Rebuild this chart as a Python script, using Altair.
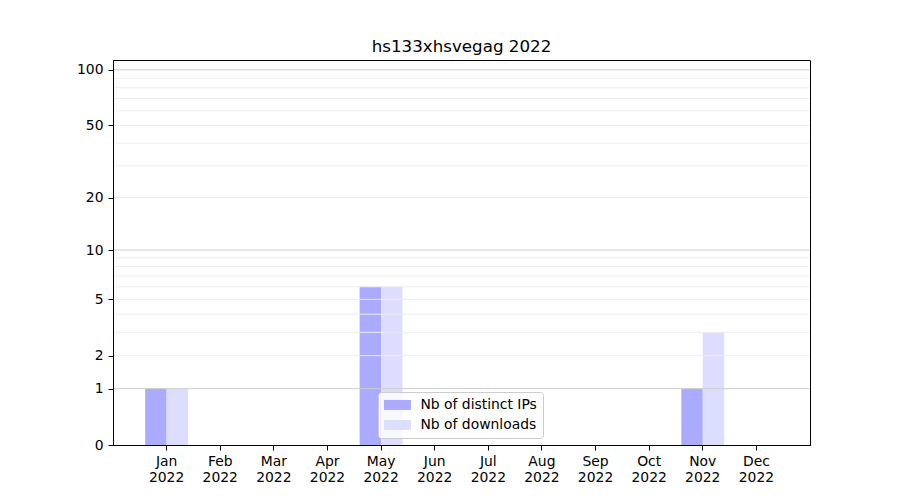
import altair as alt
import pandas as pd

title_text = "hs133xhsvegag 2022"
year = "2022"
months = ["Jan", "Feb", "Mar", "Apr", "May", "Jun", "Jul", "Aug", "Sep", "Oct", "Nov", "Dec"]
ips = [1, 0, 0, 0, 6, 0, 0, 0, 0, 0, 1, 0]
downloads = [1, 0, 0, 0, 6, 0, 0, 0, 0, 0, 3, 0]
series_names = ["Nb of distinct IPs", "Nb of downloads"]
series_colors = ["#aaaaff", "#ddddff"]
y_ticks = [0, 1, 2, 5, 10, 20, 50, 100]
major_grid = [1, 10, 100]
minor_grid = [2, 3, 4, 5, 6, 7, 8, 9, 20, 30, 40, 50, 60, 70, 80, 90]
y_max = 113

rows = []
for m, a, b in zip(months, ips, downloads):
    rows.append({"month": m, "series": series_names[0], "value": a})
    rows.append({"month": m, "series": series_names[1], "value": b})
df = pd.DataFrame(rows)

FONT = "DejaVu Sans"
W, H = 697, 385
yscale = alt.Scale(type="symlog", constant=1, domain=[0, y_max], nice=False, zero=True)
yaxis = alt.Axis(
    title=None,
    values=y_ticks,
    format="d",
    grid=False,
    tickSize=5,
    labelPadding=5,
    labelFont=FONT,
    labelFontSize=13.9,
    labelColor="black",
    domainColor="black",
    tickColor="black",
    zindex=1,
)

bars = alt.Chart(df).mark_bar(strokeWidth=0, opacity=1).encode(
    x=alt.X(
        "month:N",
        sort=months,
        scale=alt.Scale(domain=months, paddingInner=0.2, paddingOuter=0.6),
        axis=alt.Axis(
            title=None,
            labelAngle=0,
            labelExpr=f"[datum.label, '{year}']",
            labelLineHeight=16,
            tickSize=5,
            labelPadding=4,
            grid=False,
            labelFont=FONT,
            labelFontSize=13.9,
            labelColor="black",
            domainColor="black",
            tickColor="black",
            zindex=1,
        ),
    ),
    xOffset=alt.XOffset(
        "series:N",
        sort=series_names,
        scale=alt.Scale(domain=series_names, paddingInner=0, paddingOuter=0),
    ),
    y=alt.Y("value:Q", scale=yscale, axis=yaxis),
    color=alt.Color(
        "series:N",
        sort=series_names,
        scale=alt.Scale(domain=series_names, range=series_colors),
        legend=alt.Legend(
            title=None,
            orient="none",
            legendX=265,
            legendY=332,
            direction="vertical",
            fillColor="rgba(255,255,255,0.8)",
            strokeColor="#cccccc",
            cornerRadius=3,
            padding=6,
            symbolType="M-2.7,-1H2.7V1H-2.7Z",
            symbolSize=100,
            symbolStrokeWidth=0,
            symbolOpacity=1,
            symbolOffset=6.5,
            labelOffset=16,
            labelFont=FONT,
            labelFontSize=13.9,
            labelColor="black",
            rowPadding=5,
        ),
    ),
)

minor = alt.Chart(pd.DataFrame({"value": minor_grid})).mark_rule(color="#ededed", strokeWidth=1).encode(
    y=alt.Y("value:Q", scale=yscale, axis=None),
    x=alt.value(1),
    x2=alt.value(W - 1),
)
major = alt.Chart(pd.DataFrame({"value": major_grid})).mark_rule(color="#cdcdcd", strokeWidth=1).encode(
    y=alt.Y("value:Q", scale=yscale, axis=None),
    x=alt.value(1),
    x2=alt.value(W - 1),
)

chart = alt.layer(bars, minor, major).resolve_axis(y="independent").properties(
    width=W,
    height=H,
    background="white",
    autosize=alt.AutoSizeParams(type="none"),
    padding={"left": 105, "top": 52, "right": 80, "bottom": 40},
    title=alt.TitleParams(
        title_text, font=FONT, fontSize=16.7, fontWeight="normal", color="black", offset=4, anchor="middle"
    ),
).configure_view(stroke="black", strokeWidth=1).configure_axis(
    labelFont=FONT,
    labelFontSize=13.9,
    labelColor="black",
    domainColor="black",
    domainWidth=1,
    tickColor="black",
    tickWidth=1,
)

chart.save("out.html", embed_options={"renderer": "svg", "actions": False})
